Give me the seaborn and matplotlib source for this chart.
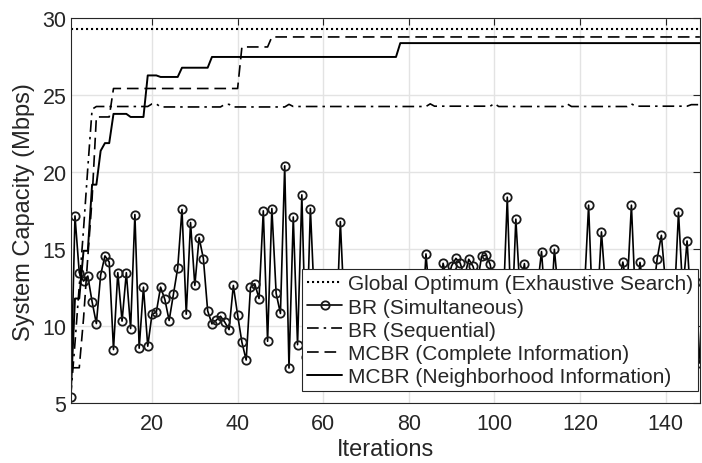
import numpy as np
import pandas as pd
import matplotlib
matplotlib.use("Agg")
import matplotlib.pyplot as plt
import seaborn as sns

# ── Veriler ───────────────────────────────────────────────────────────────────
iterasyon = list(range(1, 149))

global_opt = [29.3] * 148

br_sim = [
    5.4, 17.17, 13.48, 12.93, 13.26, 11.59, 10.17, 13.33, 14.57, 14.17,
    8.48, 13.48, 10.33, 13.48, 9.85, 17.26, 8.57, 12.54, 8.7, 10.78,
    10.91, 12.54, 11.74, 10.37, 12.07, 13.78, 17.59, 10.78, 16.74, 12.65,
    15.76, 14.39, 11.0, 10.15, 10.39, 10.65, 10.26, 9.78, 12.65, 10.72,
    8.96, 7.8, 12.52, 12.76, 11.8, 17.5, 9.02, 17.65, 12.13, 10.83,
    20.43, 7.28, 17.1, 8.8, 18.54, 8.0, 17.65, 11.2, 9.6, 12.4,
    10.1, 12.9, 9.3, 16.8, 10.6, 12.2, 9.8, 11.5, 13.0, 10.4,
    12.0, 9.1, 11.8, 12.6, 10.2, 11.3, 12.8, 9.7, 11.0, 12.3,
    10.5, 11.9, 9.5, 14.7, 11.4, 12.2, 10.8, 14.09, 12.9, 13.93,
    14.41, 14.1, 13.2, 14.35, 13.89, 12.8, 14.54, 14.63, 14.02, 12.5,
    11.6, 10.9, 18.39, 9.8, 16.96, 12.1, 14.07, 11.2, 10.6, 12.4,
    14.85, 11.0, 9.9, 15.0, 12.0, 10.7, 11.8, 12.6, 10.3, 11.5,
    12.2, 17.87, 10.4, 11.1, 16.13, 12.3, 10.9, 11.7, 12.6, 14.17,
    12.4, 17.87, 11.3, 14.15, 12.0, 10.8, 11.9, 14.35, 15.91, 12.7,
    10.6, 11.4, 17.41, 12.2, 15.54, 11.0, 12.85, 7.6,
]

br_seq = ([5.4, 8.9, 12.6, 16.3, 20.3, 24.1]
          + [24.28] * 13 + [24.45] * 2 + [24.25] * 15 + [24.42] * 2
          + [24.25] * 13 + [24.42] + [24.28] * 32 + [24.45]
          + [24.3] * 14 + [24.47] + [24.28] * 16 + [24.45]
          + [24.28] * 14 + [24.45] + [24.3] * 13 + [24.4] * 3)

mcbr_tam = ([7.3, 7.3, 7.3, 10.5, 14.5, 18.3]
            + [23.6] * 4 + [25.45] * 30 + [28.15] * 7 + [28.8] * 101)

mcbr_komsu = ([5.4, 11.8, 11.8, 14.9, 14.9, 19.2, 19.2, 21.4, 21.9, 21.9]
              + [23.8] * 4 + [23.6] * 4 + [26.3] * 3 + [26.2] * 5
              + [26.8] * 7 + [27.5] * 44 + [28.4] * 71)

etiketler = [
    "Global Optimum (Exhaustive Search)",
    "BR (Simultaneous)",
    "BR (Sequential)",
    "MCBR (Complete Information)",
    "MCBR (Neighborhood Information)",
]

# ── Stil ──────────────────────────────────────────────────────────────────────
sns.set_theme(style="whitegrid")
plt.rcParams.update({
    "font.family": ["Liberation Sans", "DejaVu Sans"],
    "font.size": 15,
    "axes.edgecolor": "#262626",
    "axes.linewidth": 0.8,
    "grid.color": "#e3e3e3",
    "grid.linewidth": 1.0,
    "xtick.direction": "in",
    "ytick.direction": "in",
    "xtick.color": "#262626",
    "ytick.color": "#262626",
    "legend.numpoints": 1,
})

fig = plt.figure(figsize=(7.02, 4.64), dpi=100)
ax = fig.add_axes([0.1007, 0.129, 0.8963, 0.829])

seriler = [global_opt, br_sim, br_seq, mcbr_tam, mcbr_komsu]
stiller = [
    dict(linestyle=(0, (1, 1.4)), lw=1.5),
    dict(linestyle="-", lw=1.2, marker="o", markersize=6,
         markerfacecolor="none", markeredgecolor="k", markeredgewidth=1.3),
    dict(linestyle=(0, (7, 3, 1.5, 3)), lw=1.2),
    dict(linestyle=(0, (7, 3.5)), lw=1.2),
    dict(linestyle="-", lw=1.4),
]
for y, lab, st in zip(seriler, etiketler, stiller):
    sns.lineplot(x=iterasyon, y=y, ax=ax, color="black", label=lab, **st)

ax.set_xlim(1, 148)
ax.set_ylim(5, 30)
ax.set_xticks([20, 40, 60, 80, 100, 120, 140])
ax.set_yticks([5, 10, 15, 20, 25, 30])
ax.tick_params(axis="both", labelsize=15.5, length=5, width=0.8,
               top=True, right=True, pad=3)
ax.tick_params(axis="x", pad=7)
ax.set_xlabel("Iterations", fontsize=17, labelpad=3)
ax.set_ylabel("System Capacity (Mbps)", fontsize=17, labelpad=5)
for s in ax.spines.values():
    s.set_visible(True)
    s.set_color("#262626")

leg = ax.legend(loc="lower right", bbox_to_anchor=(0.997, 0.031),
                borderaxespad=0, fontsize=15, frameon=True, fancybox=False,
                edgecolor="#262626", framealpha=1, handlelength=1.7,
                handletextpad=0.25, labelspacing=0.2, borderpad=0.25)
leg.get_frame().set_linewidth(0.8)

plt.savefig("out.png", dpi=100)
plt.close()
